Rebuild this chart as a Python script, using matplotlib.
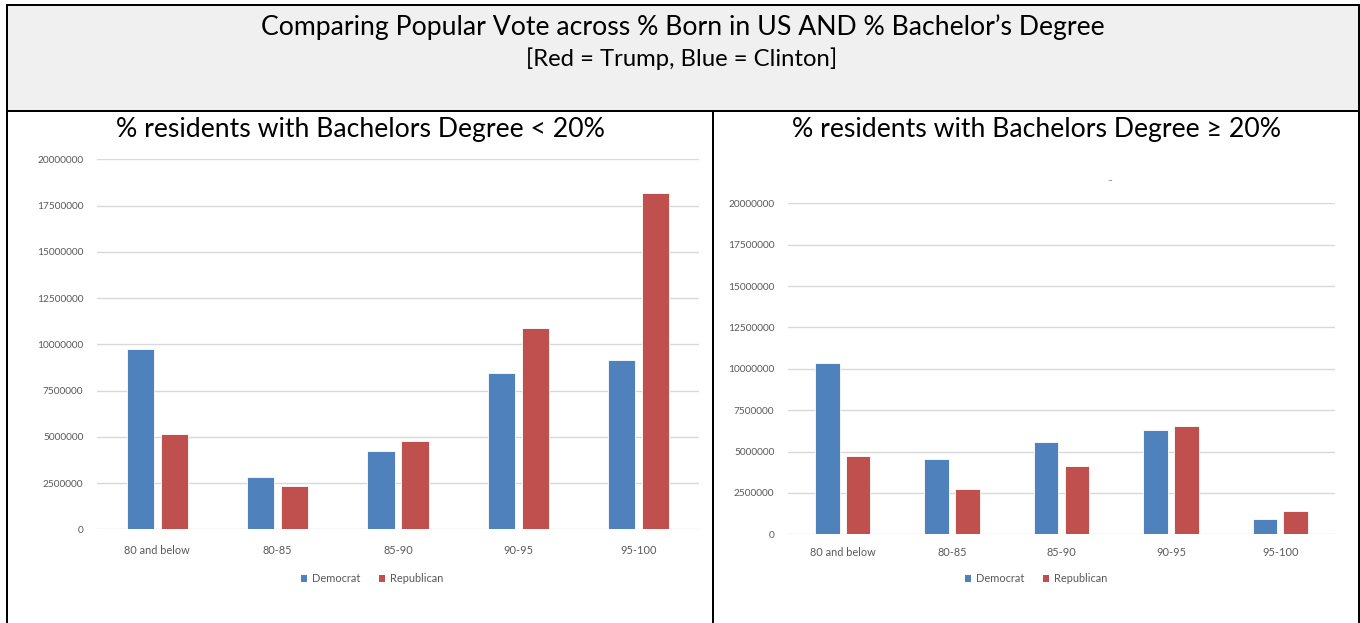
import matplotlib
matplotlib.use("Agg")
import matplotlib.pyplot as plt
from matplotlib.lines import Line2D
from matplotlib.patches import Rectangle, Patch
import numpy as np

plt.rcParams["font.family"] = ["Lato", "DejaVu Sans"]

W, H = 1360, 623

categories = ["80 and below", "80-85", "85-90", "90-95", "95-100"]

# % Bachelors Degree < 20%
low_dem = [9730000, 2810000, 4220000, 8470000, 9150000]
low_rep = [5150000, 2360000, 4790000, 10860000, 18200000]

# % Bachelors Degree >= 20%
high_dem = [10350000, 4530000, 5600000, 6310000, 910000]
high_rep = [4710000, 2740000, 4130000, 6550000, 1410000]

yticks = [0, 2500000, 5000000, 7500000, 10000000, 12500000, 15000000, 17500000, 20000000]

BLUE = "#4F81BD"
RED = "#C0504D"
GRID = "#d9d9d9"
TICK = "#595959"


def fx(px):
    return px / W


def fy(py):
    return 1 - py / H


def axes_rect(x0, y0, x1, y1):
    return [fx(x0), fy(y1), fx(x1) - fx(x0), (y1 - y0) / H]


def draw_panel(ax, dem, rep, xpad, bar_w=0.225, gap=0.058):
    x = np.arange(len(categories))
    off = (bar_w + gap) / 2
    ax.bar(x - off, dem, bar_w, color=BLUE, edgecolor="white", linewidth=0.6,
           label="Democrat", zorder=3)
    ax.bar(x + off, rep, bar_w, color=RED, edgecolor="white", linewidth=0.6,
           label="Republican", zorder=3)
    ax.set_xlim(-0.5, len(categories) - 0.5)
    ax.set_ylim(0, 20000000)
    ax.set_yticks(yticks)
    ax.set_yticklabels([str(v) for v in yticks])
    ax.set_xticks(x)
    ax.set_xticklabels(categories)
    ax.grid(True, axis="y", color=GRID, linewidth=1.0, zorder=0)
    ax.set_axisbelow(True)
    for s in ax.spines.values():
        s.set_visible(False)
    ax.tick_params(axis="both", length=0, colors=TICK)
    ax.tick_params(axis="y", pad=9.8, labelsize=7.3)
    ax.tick_params(axis="x", pad=xpad, labelsize=7.9)
    ax.patch.set_alpha(0)


fig = plt.figure(figsize=(W / 100, H / 100), dpi=100)
fig.patch.set_facecolor("white")

# header box
fig.patches.append(Rectangle((fx(7), fy(110)), fx(1359) - fx(7), (110 - 5) / H,
                             transform=fig.transFigure, facecolor="#f0f0f0",
                             edgecolor="none", zorder=0))

fig.text(fx(683), fy(27), "Comparing Popular Vote across % Born in US AND % Bachelor\u2019s Degree",
         ha="center", va="center", fontsize=19.2, color="black")
fig.text(fx(682), fy(59), "[Red = Trump, Blue = Clinton]",
         ha="center", va="center", fontsize=17.2, color="black")

ax1 = fig.add_axes(axes_rect(97, 159.3, 699, 529.3))
draw_panel(ax1, low_dem, low_rep, xpad=11.5)
fig.text(fx(360), fy(130), "% residents with Bachelors Degree < 20%",
         ha="center", va="center", fontsize=19.2, color="black")

ax2 = fig.add_axes(axes_rect(788, 203.3, 1335, 534.3))
draw_panel(ax2, high_dem, high_rep, xpad=9.5)
fig.text(fx(1036), fy(130), "% residents with Bachelors Degree \u2265 20%",
         ha="center", va="center", fontsize=19.2, color="black")
fig.text(fx(1110), fy(181), "\u2013", ha="center", va="center", fontsize=6, color="#404040")

legend_handles = [Patch(facecolor=BLUE, edgecolor="none", label="Democrat"),
                  Patch(facecolor=RED, edgecolor="none", label="Republican")]
for cx in (372, 1036):
    fig.legend(handles=legend_handles, loc="center", bbox_to_anchor=(fx(cx), fy(579)),
               ncol=2, frameon=False, fontsize=7.9, handlelength=0.6, handleheight=0.6,
               handletextpad=0.4, columnspacing=1.7, labelcolor=TICK)

# table borders
lw = 2 * 72 / 100
border = dict(transform=fig.transFigure, color="black", linewidth=lw, solid_capstyle="butt")
fig.add_artist(Line2D([fx(7), fx(7)], [fy(5), 0], **border))
fig.add_artist(Line2D([fx(1359), fx(1359)], [fy(5), 0], **border))
fig.add_artist(Line2D([fx(6), fx(1360)], [fy(5), fy(5)], **border))
fig.add_artist(Line2D([fx(6), fx(1360)], [fy(110.5), fy(110.5)], **border))
fig.add_artist(Line2D([fx(713), fx(713)], [fy(110.5), 0], **border))

fig.savefig("out.png", dpi=100)
